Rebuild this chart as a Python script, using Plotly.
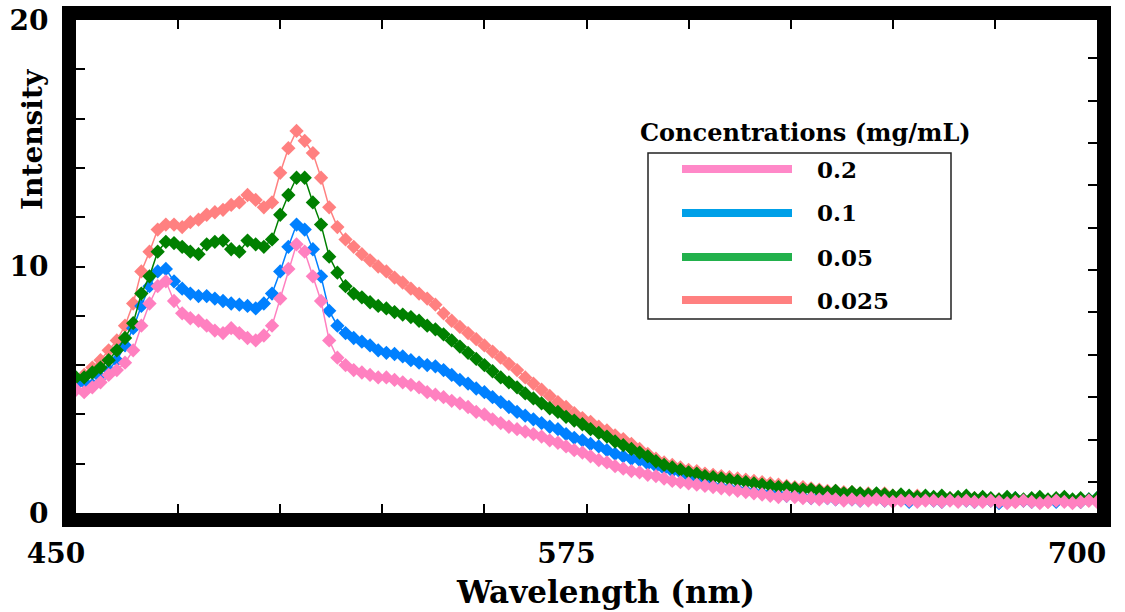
import plotly.graph_objects as go

# ---------------- data ----------------
wavelength = list(range(450, 701, 2))  # nm

conc_labels = ["0.2", "0.1", "0.05", "0.025"]

int_0_2 = [5.0, 4.9, 5.1, 5.3, 5.6, 5.8, 6.1, 6.6, 7.6, 8.5,
           9.2, 9.4, 8.6, 8.1, 7.9, 7.8, 7.6, 7.4, 7.3, 7.5,
           7.3, 7.1, 7.0, 7.2, 7.6, 8.7, 9.9, 10.9, 10.6, 9.6,
           8.6, 7.0, 6.3, 6.0, 5.8, 5.7, 5.6, 5.5, 5.5, 5.4,
           5.3, 5.2, 5.1, 4.9, 4.8, 4.7, 4.55, 4.45, 4.3, 4.1,
           4.0, 3.8, 3.65, 3.5, 3.4, 3.3, 3.2, 3.1, 2.95, 2.85,
           2.7, 2.55, 2.45, 2.3, 2.15, 2.05, 1.9, 1.8, 1.7, 1.65,
           1.55, 1.5, 1.4, 1.3, 1.25, 1.2, 1.15, 1.1, 1.05, 1.0,
           0.95, 0.9, 0.85, 0.8, 0.75, 0.7, 0.65, 0.7, 0.65, 0.6,
           0.6, 0.55, 0.6, 0.55, 0.5, 0.55, 0.5, 0.5, 0.55, 0.5,
           0.45, 0.5, 0.5, 0.45, 0.5, 0.5, 0.45, 0.5, 0.45, 0.5,
           0.45, 0.45, 0.5, 0.45, 0.4, 0.45, 0.5, 0.45, 0.4, 0.45,
           0.5, 0.45, 0.4, 0.45, 0.5, 0.45]

int_0_1 = [5.2, 5.3, 5.2, 5.5, 5.8, 6.2, 6.8, 7.5, 8.4, 9.2,
           9.8, 9.9, 9.4, 9.1, 8.9, 8.8, 8.8, 8.7, 8.6, 8.5,
           8.45, 8.4, 8.3, 8.5, 8.9, 9.8, 10.8, 11.7, 11.5, 10.7,
           9.6, 8.2, 7.6, 7.3, 7.1, 6.95, 6.8, 6.6, 6.5, 6.45,
           6.35, 6.2, 6.1, 6.0, 5.95, 5.8, 5.6, 5.4, 5.25, 5.05,
           4.9, 4.7, 4.5, 4.3, 4.1, 3.95, 3.8, 3.65, 3.5, 3.4,
           3.2, 3.05, 2.95, 2.8, 2.7, 2.55, 2.4, 2.3, 2.2, 2.15,
           2.0, 1.9, 1.8, 1.7, 1.65, 1.5, 1.4, 1.25, 1.1, 1.05,
           1.0, 0.95, 0.9, 0.85, 0.8, 0.8, 0.75, 0.7, 0.7, 0.65,
           0.6, 0.65, 0.6, 0.55, 0.6, 0.55, 0.5, 0.55, 0.6, 0.5,
           0.5, 0.55, 0.45, 0.5, 0.6, 0.5, 0.45, 0.55, 0.6, 0.5,
           0.45, 0.55, 0.5, 0.4, 0.5, 0.6, 0.5, 0.45, 0.55, 0.5,
           0.45, 0.6, 0.5, 0.45, 0.55, 0.6]

int_0_05 = [5.5, 5.5, 5.7, 5.9, 6.2, 6.6, 7.1, 7.7, 8.9, 9.6,
            10.6, 11.0, 10.95, 10.8, 10.6, 10.5, 10.9, 11.0, 11.05, 10.7,
            10.6, 11.05, 10.9, 10.8, 11.1, 12.1, 12.9, 13.6, 13.6, 12.6,
            11.7, 10.4, 9.75, 9.2, 8.9, 8.75, 8.55, 8.4, 8.3, 8.15,
            8.05, 7.95, 7.8, 7.6, 7.45, 7.25, 7.0, 6.75, 6.5, 6.25,
            6.0, 5.75, 5.5, 5.3, 5.1, 4.85, 4.65, 4.45, 4.25, 4.1,
            3.9, 3.75, 3.6, 3.4, 3.25, 3.1, 2.9, 2.75, 2.6, 2.45,
            2.3, 2.1, 1.95, 1.85, 1.75, 1.65, 1.6, 1.5, 1.45, 1.4,
            1.35, 1.3, 1.25, 1.2, 1.15, 1.1, 1.05, 1.05, 1.0, 0.95,
            0.95, 0.9, 0.85, 0.9, 0.8, 0.85, 0.8, 0.75, 0.8, 0.75,
            0.7, 0.75, 0.7, 0.65, 0.7, 0.65, 0.7, 0.6, 0.65, 0.7,
            0.6, 0.65, 0.6, 0.55, 0.65, 0.6, 0.55, 0.6, 0.65, 0.55,
            0.6, 0.65, 0.55, 0.6, 0.55, 0.6]

int_0_025 = [5.4, 5.6, 5.9, 6.2, 6.6, 7.0, 7.6, 8.5, 9.8, 10.6,
             11.5, 11.7, 11.7, 11.6, 11.8, 11.9, 12.1, 12.2, 12.3, 12.5,
             12.6, 12.9, 12.7, 12.4, 12.6, 13.8, 14.8, 15.5, 15.1, 14.6,
             13.6, 12.4, 11.6, 11.1, 10.8, 10.5, 10.25, 10.0, 9.8, 9.55,
             9.35, 9.1, 8.9, 8.7, 8.45, 8.1, 7.8, 7.55, 7.3, 7.05,
             6.8, 6.55, 6.3, 6.05, 5.8, 5.5, 5.25, 5.0, 4.75, 4.5,
             4.3, 4.05, 3.85, 3.7, 3.5, 3.35, 3.15, 3.0, 2.8, 2.6,
             2.4, 2.2, 2.05, 1.95, 1.85, 1.75, 1.7, 1.6, 1.55, 1.5,
             1.45, 1.4, 1.35, 1.3, 1.25, 1.2, 1.15, 1.1, 1.05, 1.05,
             1.0, 0.95, 0.9, 0.9, 0.85, 0.85, 0.8, 0.8, 0.75, 0.8,
             0.7, 0.7, 0.65, 0.7, 0.65, 0.6, 0.65, 0.6, 0.55, 0.6,
             0.6, 0.55, 0.5, 0.55, 0.5, 0.45, 0.5, 0.55, 0.5, 0.45,
             0.5, 0.55, 0.5, 0.45, 0.5, 0.5]

x_tick_vals = list(range(450, 701, 25))
x_tick_text = ["450", "", "", "", "", "575", "", "", "", "", "700"]
y_tick_vals = list(range(0, 21, 2))
y_tick_text = ["0", "", "", "", "", "10", "", "", "", "", "20"]

for s in (int_0_2, int_0_1, int_0_05, int_0_025):
    assert len(s) == len(wavelength), len(s)

# ---------------- styling ----------------
W, H = 1125, 612
L, R, T, B = 76, 1097, 20, 513


def pxp(x):
    return (x - L) / (R - L)


def pyp(y):
    return (B - y) / (B - T)


FONT = "DejaVu Serif"
data_colors = {"0.2": "#FF80C0", "0.1": "#0080FF", "0.05": "#008000", "0.025": "#FF8080"}
legend_colors = {"0.2": "#FF88C8", "0.1": "#00A0E8", "0.05": "#22B14C", "0.025": "#FF8080"}
series = {"0.2": int_0_2, "0.1": int_0_1, "0.05": int_0_05, "0.025": int_0_025}

fig = go.Figure()
for name in ["0.025", "0.1", "0.05", "0.2"]:
    col = data_colors[name]
    fig.add_trace(go.Scatter(
        x=wavelength, y=series[name], mode="lines+markers", name=name,
        line=dict(color=col, width=1.5),
        marker=dict(symbol="diamond", size=11, color=col, line=dict(width=0)),
        showlegend=False,
    ))
# helper trace so the right-hand tick axis is drawn
fig.add_trace(go.Scatter(x=[None], y=[None], yaxis="y2", showlegend=False, hoverinfo="skip"))

fig.update_layout(
    width=W, height=H,
    margin=dict(l=L, r=W - R, t=T, b=H - B, autoexpand=False),
    paper_bgcolor="white", plot_bgcolor="white",
    showlegend=False,
    xaxis=dict(
        range=[450, 700], tickvals=x_tick_vals, ticktext=x_tick_text,
        ticks="inside", ticklen=9, tickwidth=2, tickcolor="black",
        showline=True, linewidth=14, linecolor="black", mirror="ticks",
        showgrid=False, zeroline=False, automargin=False,
        tickfont=dict(family=FONT, size=28, color="black", weight="bold"),
        ticklabelshift=-20, ticklabelstandoff=2,
    ),
    yaxis=dict(
        range=[0, 20], tickvals=y_tick_vals, ticktext=y_tick_text,
        ticks="inside", ticklen=9, tickwidth=2, tickcolor="black",
        showline=True, linewidth=14, linecolor="black", mirror=True,
        showgrid=False, zeroline=False, automargin=False,
        tickfont=dict(family=FONT, size=28, color="black", weight="bold"),
        ticklabelstandoff=8,
    ),
    yaxis2=dict(
        overlaying="y", side="right", range=[-0.73, 10.9],
        tickvals=list(range(0, 11)), showticklabels=False,
        ticks="inside", ticklen=9, tickwidth=2, tickcolor="black",
        showline=False, showgrid=False, zeroline=False, automargin=False,
    ),
)

annotations = [
    dict(text="Wavelength (nm)", x=pxp(605), y=pyp(592), xref="paper", yref="paper",
         xanchor="center", yanchor="middle",
         showarrow=False, font=dict(family=FONT, size=31, color="black", weight="bold")),
    dict(text="Intensity", x=pxp(32), y=pyp(140), xref="paper", yref="paper", textangle=-90,
         xanchor="center", yanchor="middle",
         showarrow=False, font=dict(family=FONT, size=28, color="black", weight="bold")),
    dict(text="Concentrations (mg/mL)", x=pxp(805), y=pyp(133), xref="paper", yref="paper",
         xanchor="center", yanchor="middle",
         showarrow=False, font=dict(family=FONT, size=24, color="black", weight="bold")),
]

shapes = [
    dict(type="rect", xref="paper", yref="paper", x0=pxp(648), x1=pxp(951),
         y0=pyp(319), y1=pyp(153), line=dict(color="#222222", width=1.5), fillcolor="white", layer="above"),
]

legend_rows_y = [169, 213, 257, 300]
for name, yrow in zip(conc_labels, legend_rows_y):
    shapes.append(dict(type="line", xref="paper", yref="paper", x0=pxp(682), x1=pxp(792),
                       y0=pyp(yrow), y1=pyp(yrow), line=dict(color=legend_colors[name], width=8),
                       layer="above"))
    annotations.append(dict(text=name, x=pxp(815), y=pyp(yrow), xref="paper", yref="paper",
                            xanchor="left", yanchor="middle", showarrow=False,
                            font=dict(family=FONT, size=23, color="black", weight="bold")))

fig.update_layout(annotations=annotations, shapes=shapes)

fig.write_html("out.html")
